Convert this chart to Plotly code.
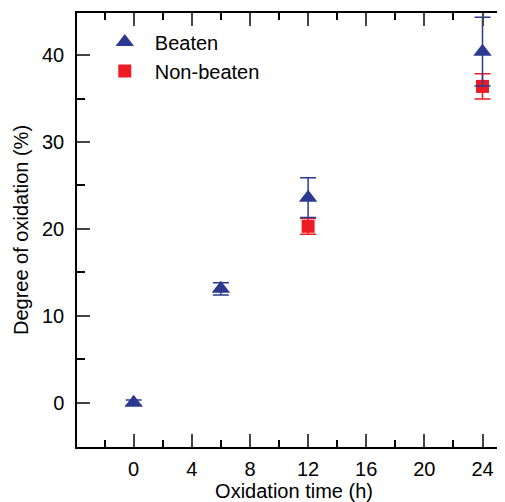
import plotly.graph_objects as go

# Data
beaten_time = [0, 6, 12, 24]
beaten_val = [0.0, 13.1, 23.6, 40.4]
beaten_err = [0.3, 0.7, 2.3, 3.95]

nonbeaten_time = [12, 24]
nonbeaten_val = [20.3, 36.4]
nonbeaten_err = [0.9, 1.45]

x_ticks = [0, 4, 8, 12, 16, 20, 24]
y_ticks = [0, 10, 20, 30, 40]

blue = "#2B3990"
red = "#ED1C24"

fig = go.Figure()
fig.add_trace(go.Scatter(
    x=nonbeaten_time, y=nonbeaten_val, mode="markers", name="Non-beaten",
    marker=dict(symbol="square", size=13, color=red),
    error_y=dict(type="data", array=nonbeaten_err, color=red, thickness=1.5, width=8),
))
fig.add_trace(go.Scatter(
    x=beaten_time, y=beaten_val, mode="markers", name="Beaten",
    marker=dict(symbol="triangle-up", size=16, color=blue),
    error_y=dict(type="data", array=beaten_err, color=blue, thickness=1.5, width=8),
))

font = dict(family="Liberation Sans, Arial, sans-serif", size=20, color="black")
fig.update_layout(
    width=505, height=502,
    margin=dict(l=69, r=0, t=5, b=63),
    paper_bgcolor="white", plot_bgcolor="white",
    font=font,
    showlegend=True,
    legend=dict(x=0.041, y=0.978, xanchor="left", yanchor="top",
                traceorder="reversed", bgcolor="rgba(0,0,0,0)",
                font=dict(size=20), itemsizing="trace", itemwidth=50),
    xaxis=dict(range=[-3.9, 25.96], tickvals=x_ticks, ticks="inside", ticklen=13,
               tickwidth=1.5, showline=True, linewidth=1.5, linecolor="black",
               mirror="allticks", showgrid=False, zeroline=False, ticklabelstandoff=3,
               minor=dict(dtick=2, ticks="inside", ticklen=7, tickwidth=1.5, tickcolor="black"),
               title=dict(text="Oxidation time (h)", standoff=2, font=dict(size=20))),
    yaxis=dict(range=[-5.1, 44.85], tickvals=y_ticks, ticks="inside", ticklen=13,
               tickwidth=1.5, showline=True, linewidth=1.5, linecolor="black",
               mirror="allticks", showgrid=False, zeroline=False, ticklabelstandoff=7,
               minor=dict(dtick=5, ticks="inside", ticklen=8, tickwidth=1.5, tickcolor="black"),
               title=dict(text="Degree of oxidation (%)", standoff=8, font=dict(size=20))),
)

fig.write_html("out.html")
